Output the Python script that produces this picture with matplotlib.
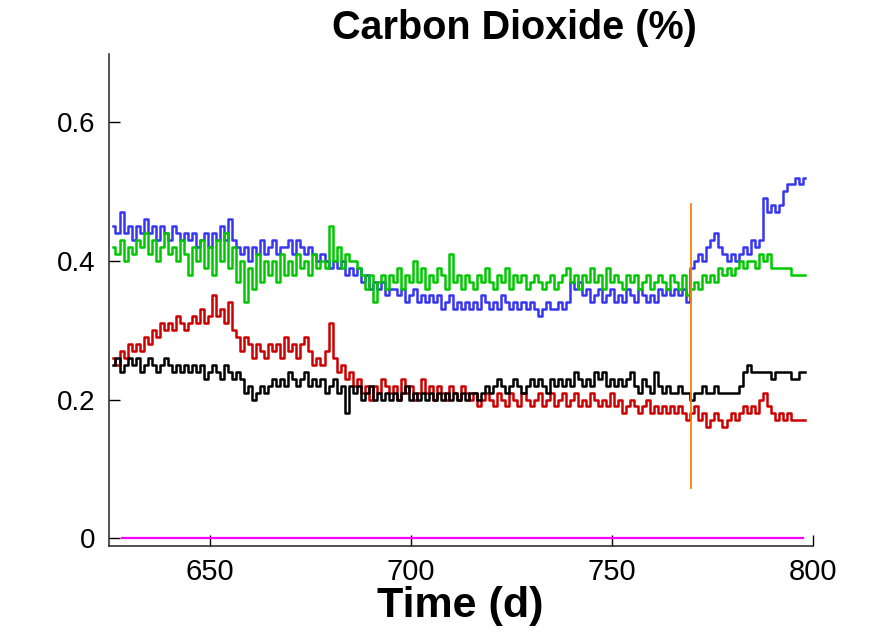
import matplotlib
matplotlib.use("Agg")
import matplotlib.pyplot as plt
import numpy as np

plt.rcParams['font.family'] = ['Liberation Sans', 'DejaVu Sans']

# daily readings, day 626 .. 798
days = np.arange(626, 799)

blue = [0.45, 0.44, 0.47, 0.44, 0.45, 0.43, 0.45, 0.44, 0.46, 0.44,
        0.45, 0.43, 0.45, 0.44, 0.43, 0.45, 0.44, 0.43, 0.44, 0.43,
        0.44, 0.42, 0.43, 0.44, 0.42, 0.44, 0.43, 0.45, 0.43, 0.46,
        0.43, 0.42, 0.41, 0.42, 0.40, 0.42, 0.41, 0.43, 0.41, 0.42,
        0.43, 0.41, 0.42, 0.42, 0.43, 0.41, 0.43, 0.42, 0.41, 0.42,
        0.41, 0.40, 0.41, 0.40, 0.39, 0.40, 0.39, 0.40, 0.38, 0.39,
        0.38, 0.39, 0.37, 0.38, 0.36, 0.37, 0.36, 0.37, 0.35, 0.36,
        0.36, 0.35, 0.36, 0.34, 0.35, 0.36, 0.34, 0.35, 0.34, 0.35,
        0.34, 0.35, 0.33, 0.34, 0.35, 0.33, 0.34, 0.33, 0.34, 0.33,
        0.34, 0.33, 0.35, 0.34, 0.33, 0.34, 0.33, 0.35, 0.34, 0.33,
        0.34, 0.33, 0.34, 0.33, 0.34, 0.33, 0.32, 0.33, 0.34, 0.33,
        0.33, 0.34, 0.33, 0.34, 0.37, 0.36, 0.37, 0.35, 0.36, 0.34,
        0.35, 0.36, 0.34, 0.35, 0.36, 0.34, 0.35, 0.34, 0.36, 0.35,
        0.34, 0.36, 0.35, 0.34, 0.35, 0.34, 0.36, 0.35, 0.36, 0.35,
        0.36, 0.35, 0.36, 0.34, 0.39, 0.40, 0.41, 0.40, 0.42, 0.43,
        0.44, 0.42, 0.41, 0.40, 0.41, 0.40, 0.41, 0.42, 0.41, 0.43,
        0.42, 0.43, 0.49, 0.47, 0.48, 0.47, 0.48, 0.50, 0.51, 0.51,
        0.52, 0.51, 0.52]

green = [0.42, 0.41, 0.43, 0.40, 0.42, 0.41, 0.43, 0.42, 0.44, 0.41,
         0.43, 0.40, 0.42, 0.44, 0.41, 0.42, 0.40, 0.43, 0.41, 0.38,
         0.42, 0.40, 0.43, 0.39, 0.42, 0.38, 0.43, 0.40, 0.44, 0.39,
         0.42, 0.37, 0.40, 0.34, 0.39, 0.36, 0.41, 0.37, 0.40, 0.38,
         0.40, 0.37, 0.41, 0.38, 0.40, 0.38, 0.41, 0.39, 0.40, 0.38,
         0.41, 0.39, 0.40, 0.39, 0.45, 0.40, 0.42, 0.39, 0.41, 0.40,
         0.40, 0.39, 0.38, 0.36, 0.38, 0.34, 0.37, 0.38, 0.36, 0.38,
         0.37, 0.39, 0.36, 0.38, 0.37, 0.40, 0.37, 0.39, 0.36, 0.38,
         0.37, 0.39, 0.38, 0.36, 0.41, 0.37, 0.38, 0.36, 0.38, 0.37,
         0.36, 0.38, 0.37, 0.39, 0.37, 0.36, 0.38, 0.37, 0.39, 0.36,
         0.38, 0.37, 0.38, 0.36, 0.37, 0.38, 0.37, 0.36, 0.37, 0.38,
         0.36, 0.37, 0.38, 0.39, 0.37, 0.38, 0.36, 0.38, 0.37, 0.39,
         0.37, 0.38, 0.36, 0.39, 0.37, 0.38, 0.37, 0.36, 0.38, 0.37,
         0.38, 0.36, 0.37, 0.38, 0.36, 0.37, 0.38, 0.37, 0.36, 0.38,
         0.37, 0.36, 0.38, 0.35, 0.36, 0.37, 0.36, 0.38, 0.37, 0.38,
         0.37, 0.39, 0.38, 0.39, 0.38, 0.39, 0.40, 0.39, 0.40, 0.40,
         0.39, 0.41, 0.40, 0.41, 0.39, 0.39, 0.39, 0.39, 0.39, 0.38,
         0.38, 0.38, 0.38]

red = [0.26, 0.25, 0.27, 0.26, 0.28, 0.27, 0.28, 0.27, 0.29, 0.28,
       0.30, 0.29, 0.31, 0.30, 0.31, 0.30, 0.32, 0.31, 0.30, 0.31,
       0.32, 0.31, 0.33, 0.31, 0.32, 0.35, 0.32, 0.33, 0.31, 0.34,
       0.30, 0.29, 0.27, 0.29, 0.28, 0.26, 0.28, 0.27, 0.26, 0.28,
       0.27, 0.28, 0.26, 0.29, 0.27, 0.28, 0.26, 0.28, 0.29, 0.27,
       0.25, 0.26, 0.25, 0.27, 0.31, 0.26, 0.24, 0.25, 0.23, 0.24,
       0.22, 0.23, 0.21, 0.22, 0.20, 0.22, 0.21, 0.23, 0.22, 0.21,
       0.22, 0.20, 0.23, 0.21, 0.22, 0.20, 0.21, 0.23, 0.21, 0.22,
       0.20, 0.22, 0.21, 0.20, 0.22, 0.21, 0.20, 0.22, 0.21, 0.20,
       0.21, 0.19, 0.20, 0.21, 0.20, 0.19, 0.21, 0.20, 0.19, 0.21,
       0.20, 0.19, 0.21, 0.20, 0.19, 0.20, 0.21, 0.19, 0.20, 0.21,
       0.19, 0.20, 0.21, 0.19, 0.20, 0.21, 0.19, 0.20, 0.19, 0.21,
       0.20, 0.19, 0.20, 0.19, 0.21, 0.19, 0.20, 0.18, 0.19, 0.20,
       0.19, 0.18, 0.19, 0.20, 0.18, 0.19, 0.18, 0.19, 0.18, 0.19,
       0.18, 0.19, 0.18, 0.17, 0.18, 0.19, 0.17, 0.18, 0.16, 0.17,
       0.18, 0.17, 0.16, 0.17, 0.18, 0.17, 0.18, 0.19, 0.18, 0.19,
       0.18, 0.20, 0.21, 0.19, 0.18, 0.17, 0.18, 0.17, 0.18, 0.17,
       0.17, 0.17, 0.17]

black = [0.25, 0.26, 0.24, 0.25, 0.26, 0.25, 0.26, 0.24, 0.25, 0.26,
         0.25, 0.24, 0.25, 0.26, 0.25, 0.24, 0.25, 0.24, 0.25, 0.24,
         0.25, 0.24, 0.25, 0.23, 0.24, 0.25, 0.24, 0.23, 0.25, 0.24,
         0.23, 0.24, 0.23, 0.21, 0.22, 0.20, 0.21, 0.22, 0.21, 0.22,
         0.23, 0.22, 0.23, 0.22, 0.24, 0.23, 0.22, 0.23, 0.24, 0.22,
         0.23, 0.22, 0.23, 0.21, 0.22, 0.23, 0.21, 0.22, 0.18, 0.22,
         0.21, 0.22, 0.20, 0.21, 0.22, 0.20, 0.21, 0.20, 0.21, 0.20,
         0.21, 0.20, 0.21, 0.22, 0.20, 0.21, 0.20, 0.21, 0.20, 0.21,
         0.20, 0.21, 0.20, 0.21, 0.20, 0.21, 0.20, 0.21, 0.20, 0.21,
         0.21, 0.20, 0.21, 0.22, 0.21, 0.22, 0.23, 0.22, 0.21, 0.22,
         0.23, 0.22, 0.21, 0.22, 0.23, 0.22, 0.23, 0.22, 0.21, 0.23,
         0.22, 0.23, 0.22, 0.23, 0.22, 0.24, 0.23, 0.22, 0.23, 0.22,
         0.24, 0.23, 0.24, 0.22, 0.23, 0.22, 0.23, 0.22, 0.23, 0.24,
         0.22, 0.21, 0.23, 0.22, 0.21, 0.24, 0.22, 0.21, 0.22, 0.21,
         0.21, 0.22, 0.21, 0.21, 0.20, 0.21, 0.21, 0.22, 0.21, 0.21,
         0.22, 0.21, 0.21, 0.21, 0.21, 0.21, 0.22, 0.24, 0.25, 0.24,
         0.24, 0.24, 0.24, 0.24, 0.23, 0.24, 0.24, 0.24, 0.24, 0.23,
         0.23, 0.24, 0.24]

zero_x = [628, 797.5]
zero_y = [0, 0]
event_day = 769.7
event_span = [0.072, 0.482]

xticks = [650, 700, 750, 800]
yticks = [0, 0.2, 0.4, 0.6]
ytick_labels = ['0', '0.2', '0.4', '0.6']

fig = plt.figure(figsize=(8.95, 6.34), dpi=100)
ax = fig.add_axes([0.1223, 0.1393, 0.786, 0.7755])

lw = 1.8
ax.plot(days, blue, color='#3636f0', lw=lw, drawstyle='steps-mid')
ax.plot(days, green, color='#00c800', lw=lw, drawstyle='steps-mid')
ax.plot(days, red, color='#cc0000', lw=lw, drawstyle='steps-mid')
ax.plot(days, black, color='black', lw=lw, drawstyle='steps-mid')
ax.plot(zero_x, zero_y, color='#ff00ff', lw=1.6)
ax.plot([event_day, event_day], event_span, color='#ff8000', lw=1.3)

ax.set_xlim(625, 800)
ax.set_ylim(-0.0107, 0.698)
ax.set_xticks(xticks)
ax.set_yticks(yticks)
ax.set_yticklabels(ytick_labels)

for s in ['top', 'right']:
    ax.spines[s].set_visible(False)
for s in ['left', 'bottom']:
    ax.spines[s].set_linewidth(1.1)
    ax.spines[s].set_color('#222222')

ax.tick_params(axis='x', direction='in', length=8, width=1.0, pad=9, labelsize=21)
ax.tick_params(axis='y', direction='in', length=8, width=1.0, pad=10, labelsize=20)

fig.text(0.575, 0.9385, 'Carbon Dioxide (%)', ha='center', va='baseline',
         fontsize=28.5, fontweight='bold')
fig.text(0.514, 0.0268, 'Time (d)', ha='center', va='baseline',
         fontsize=31, fontweight='bold')

fig.savefig('out.png', dpi=100)
